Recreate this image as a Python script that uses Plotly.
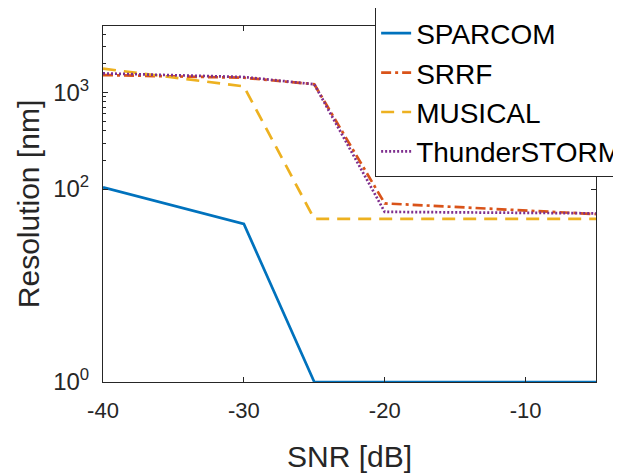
import plotly.graph_objects as go
import numpy as np

snr = [-40, -30, -25, -20, -5]
sparcom = [104, 43.5, 1, 1, 1]
srrf = [1520, 1425, 1220, 71, 55]
musical = [1770, 1160, 49, 49, 49]
thunderstorm = [1580, 1450, 1220, 58, 56]

names = ["SPARCOM", "SRRF", "MUSICAL", "ThunderSTORM"]
series = [sparcom, srrf, musical, thunderstorm]
colors = ["#0072BD", "#D95319", "#EDB120", "#7E2F8E"]
dashes = ["solid", "10px,4px,3px,4px", "13px,8px", "2px,2px"]

xticks = [-40, -30, -20, -10]
xticktext = ["-40", "-30", "-20", "-10"]
yticks = [1, 100, 1000]
yticktext = ["10<sup>0</sup>", "10<sup>2</sup>", "10<sup>3</sup>"]
yminor = [200, 300, 400, 500, 600, 700, 800, 900, 2000, 3000, 4000]

fig = go.Figure()
for i, (n, s, c, d) in enumerate(zip(names, series, colors, dashes)):
    fig.add_trace(go.Scatter(x=snr, y=s, name=n, mode="lines",
                             line=dict(color=c, dash=d, width=2.7),
                             legendgroup=n))

font = "Liberation Sans, Arial, sans-serif"
# page body adds an 8px offset; size the figure to compensate
fig.update_layout(
    width=613, height=465,
    margin=dict(l=95, r=25, t=18, b=91, autoexpand=False),
    paper_bgcolor="white", plot_bgcolor="white",
    font=dict(family=font, color="#262626"),
    showlegend=True,
    legend=dict(x=0.552, y=1.052, xanchor="left", yanchor="top",
                bgcolor="white", bordercolor="#262626", borderwidth=1,
                font=dict(size=28, color="black", family=font),
                tracegroupgap=0),
    xaxis=dict(range=[-40, -5], tickvals=xticks, ticktext=xticktext,
               ticks="inside", ticklen=5, automargin=False, ticklabelstandoff=9,
               tickcolor="#262626", showline=True, linecolor="#262626",
               linewidth=1, mirror="ticks", showgrid=False, zeroline=False,
               tickfont=dict(size=22, color="#262626"),
               title=dict(text="SNR [dB]", font=dict(size=30, color="#262626"), standoff=24)),
    yaxis=dict(type="log", range=[0, 3.69], tickvals=yticks, ticktext=yticktext,
               ticks="inside", ticklen=5, tickcolor="#262626", showline=True,
               automargin=False, ticklabelstandoff=8,
               linecolor="#262626", linewidth=1, mirror="ticks", showgrid=False,
               zeroline=False, tickfont=dict(size=24, color="#262626"),
               minor=dict(tickvals=yminor, ticks="inside", ticklen=3,
                          tickcolor="#262626", showgrid=False),
               title=dict(text="Resolution [nm]", font=dict(size=30, color="#262626"), standoff=4)),
)

fig.write_html("out.html")
